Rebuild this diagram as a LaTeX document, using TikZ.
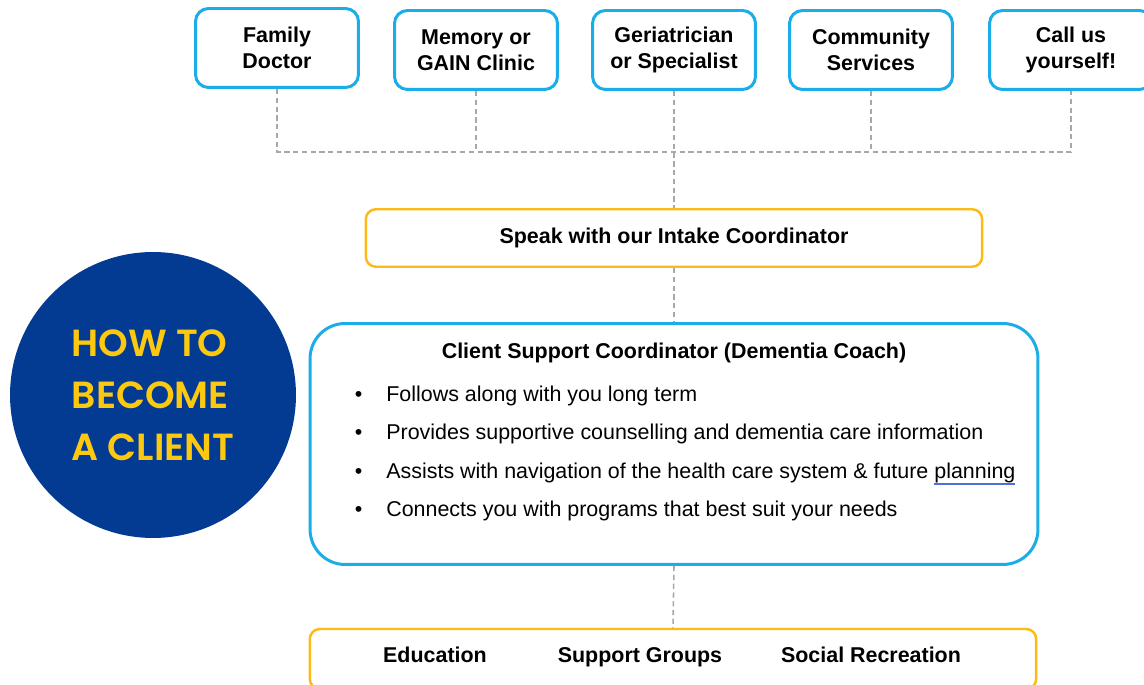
\documentclass[tikz,border=0pt]{standalone}
\usepackage{fontspec}
\setmainfont{Liberation Sans}
\newfontfamily\badgefont{Poppins}[BoldFont={* SemiBold}]
\usetikzlibrary{positioning}

\definecolor{boxblue}{HTML}{1AADE8}
\definecolor{boxgold}{HTML}{FDBA16}
\definecolor{badgenavy}{HTML}{033A92}
\definecolor{badgegold}{HTML}{FDC910}
\definecolor{linkgray}{HTML}{A8A8A8}
\definecolor{spellblue}{HTML}{4F6FD9}

% double blue mark under a word
\newcommand\spellmark[1]{\setbox0=\hbox{#1}%
  \rlap{\textcolor{spellblue}{\rule[-2.6pt]{\wd0}{0.35pt}}}%
  \rlap{\textcolor{spellblue}{\rule[-3.6pt]{\wd0}{0.35pt}}}\box0}

\tikzset{
  every node/.style={font=\fontsize{12.2}{14.8}\selectfont},
  source/.style={draw=boxblue, line width=1.7pt, rounded corners=0.26cm,
    minimum width=3.26cm, minimum height=1.58cm, align=center,
    font=\bfseries\fontsize{12.2}{14.8}\selectfont},
  stage/.style={draw=boxgold, line width=1.4pt, rounded corners=0.2cm,
    minimum width=12.33cm, minimum height=1.15cm,
    font=\bfseries\fontsize{12.2}{14.8}\selectfont},
  coach/.style={draw=boxblue, line width=1.7pt, rounded corners=0.7cm,
    minimum width=14.56cm, minimum height=4.82cm},
  duty/.style={anchor=west, inner sep=0pt, text height=9pt, text depth=2.6pt},
  heading/.style={font=\bfseries\fontsize{12.2}{14.8}\selectfont,
    text height=9pt, text depth=2.6pt},
  link/.style={draw=linkgray, line width=0.9pt, dash pattern=on 3pt off 2pt},
  badge/.style={circle, fill=badgenavy, minimum size=5.72cm, inner sep=0pt,
    text=badgegold, align=left,
    font=\badgefont\bfseries\fontsize{21.5}{29.6}\selectfont}
}

\begin{document}
\begin{tikzpicture}[x=0.02cm, y=-0.02cm]
  \clip (0,0) rectangle (1144,685);

  % where referrals come from
  \node[source] (famdoc)    at (277,48)  {Family\\Doctor};
  \node[source] (memclinic) at (476,50)  {Memory or\\GAIN Clinic};
  \node[source] (geriatric) at (674,50)  {Geriatrician\\or Specialist};
  \node[source] (community) at (871,50)  {Community\\Services};
  \node[source] (callus)    at (1071,50) {Call us\\yourself!};
  \coordinate (hub) at (674,152);

  % intake and coaching
  \node[stage] (intake) at (674,238) {Speak with our Intake Coordinator};
  \node[coach] (coach)  at (674,444) {};
  \node[heading] (coachtitle) at (674,353) {Client Support Coordinator (Dementia Coach)};
  \foreach \yy/\duty [count=\i] in {
      396/Follows along with you long term,
      434/Provides supportive counselling and dementia care information,
      473/Assists with navigation of the health care system \& future \spellmark{planning},
      511/Connects you with programs that best suit your needs}
    \node[duty] (duty\i) at (386,\yy) {\llap{\textbullet\hspace{0.48cm}}\duty};

  % programs
  \node[stage, minimum width=14.53cm, minimum height=1.2cm] (programs) at (673,659) {};
  \node[heading] (edu)    at (435,657) {Education};
  \node[heading] (groups) at (640,657) {Support Groups};
  \node[heading] (recreation) at (871,657) {Social Recreation};

  \node[badge] (badge) at (153,395) {HOW TO\\BECOME\\A CLIENT};

  % dashed connectors
  \draw[link] (famdoc.south) |- (hub) -| (callus.south);
  \draw[link] (memclinic.south) -- (memclinic.south |- hub);
  \draw[link] (community.south) -- (community.south |- hub);
  \draw[link] (geriatric.south) -- (intake.north);
  \draw[link] (intake.south) -- (coach.north);
  \draw[link] (coach.south) -- (programs.north);
\end{tikzpicture}
\end{document}
